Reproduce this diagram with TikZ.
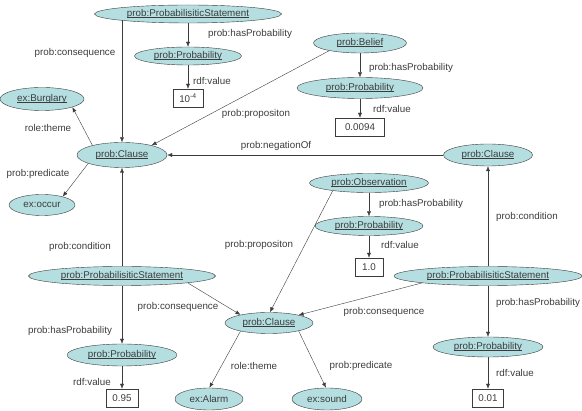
\documentclass[tikz,border=0pt]{standalone}
\usepackage{fontspec}
\setmainfont{Liberation Sans}
\usetikzlibrary{arrows.meta,shapes.geometric}
\definecolor{entfill}{RGB}{180,222,224}
\definecolor{inkgray}{RGB}{60,60,60}
\newcommand{\ulname}[1]{\setbox0\hbox{#1}\rlap{\rule[-1.4pt]{\wd0}{0.5pt}}\box0}

\begin{document}
\begin{tikzpicture}[x=1pt,y=-1pt,ent/.style={draw=inkgray,fill=entfill,ellipse,inner sep=0pt,text=inkgray,font=\fontsize{9.8}{11}\selectfont},val/.style={draw=inkgray,fill=white,inner sep=0pt,minimum height=18pt,text=inkgray,font=\fontsize{9.8}{11}\selectfont},lbl/.style={inner sep=0pt,text=inkgray,font=\fontsize{9.8}{11}\selectfont},arr/.style={-{Latex[length=5pt,width=4pt]},draw=inkgray}]
\useasboundingbox (0,0) rectangle (582,411);
\node[ent,minimum width=187pt,minimum height=18pt] (ps1) at (188,14) {\ulname{prob:ProbabilisiticStatement}};
\node[ent,minimum width=107pt,minimum height=18pt] (p1) at (188,56) {\ulname{prob:Probability}};
\node[val,minimum width=30pt] (v1) at (188,98) {10\textsuperscript{-4}};
\node[ent,minimum width=84pt,minimum height=23pt] (burg) at (42,99) {\ulname{ex:Burglary}};
\node[ent,minimum width=93pt,minimum height=20pt] (bel) at (360,43) {\ulname{prob:Belief}};
\node[ent,minimum width=126pt,minimum height=21pt] (p2) at (360,88) {\ulname{prob:Probability}};
\node[val,minimum width=49pt] (v2) at (360,127) {0.0094};
\node[ent,minimum width=90pt,minimum height=25pt] (c1) at (122,155) {\ulname{prob:Clause}};
\node[ent,minimum width=66pt,minimum height=21pt] (occ) at (42,205) {ex:occur};
\node[ent,minimum width=89pt,minimum height=22pt] (c2) at (488,155) {\ulname{prob:Clause}};
\node[ent,minimum width=119pt,minimum height=19pt] (obs) at (369,183) {\ulname{prob:Observation}};
\node[ent,minimum width=108pt,minimum height=19pt] (p3) at (369,226) {\ulname{prob:Probability}};
\node[val,minimum width=28pt] (v3) at (369,267) {1.0};
\node[ent,minimum width=187pt,minimum height=19pt] (ps2) at (122,276) {\ulname{prob:ProbabilisiticStatement}};
\node[ent,minimum width=188pt,minimum height=19pt] (ps3) at (488,276) {\ulname{prob:ProbabilisiticStatement}};
\node[ent,minimum width=88pt,minimum height=21pt] (c3) at (269,323) {\ulname{prob:Clause}};
\node[ent,minimum width=110pt,minimum height=22pt] (p4) at (122,355) {\ulname{prob:Probability}};
\node[val,minimum width=32pt] (v4) at (122,398) {0.95};
\node[ent,minimum width=68pt,minimum height=22pt] (alarm) at (209,399) {ex:Alarm};
\node[ent,minimum width=70pt,minimum height=22pt] (sound) at (327,399) {ex:sound};
\node[ent,minimum width=110pt,minimum height=20pt] (p5) at (488,347) {\ulname{prob:Probability}};
\node[val,minimum width=31pt] (v5) at (488,398) {0.01};
\draw[arr] (c1 |- ps1.185) -- (c1.north);
\draw[arr] (ps1) -- (p1);
\draw[arr] (p1) -- (v1);
\draw[arr] (c1.162) -- (burg.345);
\draw[arr] (c1.194) -- (occ.22);
\draw[arr] (bel.194) -- (c1.18);
\draw[arr] (bel) -- (p2);
\draw[arr] (p2) -- (v2);
\draw[arr] (c2) -- (c1);
\draw[arr] (obs.192) -- (c3.85);
\draw[arr] (obs) -- (p3);
\draw[arr] (p3) -- (v3);
\draw[arr] (ps2) -- (c1);
\draw[arr] (ps2.354) -- (c3.164);
\draw[arr] (ps2) -- (p4);
\draw[arr] (p4) -- (v4);
\draw[arr] (ps3) -- (c2);
\draw[arr] (ps3.186) -- (c3.15);
\draw[arr] (ps3) -- (p5);
\draw[arr] (p5) -- (v5);
\draw[arr] (c3.196) -- (alarm.88);
\draw[arr] (c3.345) -- (sound.95);
\node[lbl] (l1) at (75,53) {prob:consequence};
\node[lbl] (l2) at (250,34) {prob:hasProbability};
\node[lbl] (l3) at (212,81) {rdf:value};
\node[lbl] (l4) at (48,128) {role:theme};
\node[lbl] (l5) at (256,114) {prob:propositon};
\node[lbl] (l6) at (411,68) {prob:hasProbability};
\node[lbl] (l7) at (392,109) {rdf:value};
\node[lbl] (l8) at (38,174) {prob:predicate};
\node[lbl] (l9) at (276,146) {prob:negationOf};
\node[lbl] (l10) at (80,247) {prob:condition};
\node[lbl] (l11) at (259,245) {prob:propositon};
\node[lbl] (l12) at (421,204) {prob:hasProbability};
\node[lbl] (l13) at (400,245) {rdf:value};
\node[lbl] (l14) at (527,217) {prob:condition};
\node[lbl] (l15) at (178,307) {prob:consequence};
\node[lbl] (l16) at (70,331) {prob:hasProbability};
\node[lbl] (l17) at (92,382) {rdf:value};
\node[lbl] (l18) at (254,366) {role:theme};
\node[lbl] (l19) at (384,312) {prob:consequence};
\node[lbl] (l20) at (361,366) {prob:predicate};
\node[lbl] (l21) at (538,303) {prob:hasProbability};
\node[lbl] (l22) at (515,373) {rdf:value};
\end{tikzpicture}
\end{document}
